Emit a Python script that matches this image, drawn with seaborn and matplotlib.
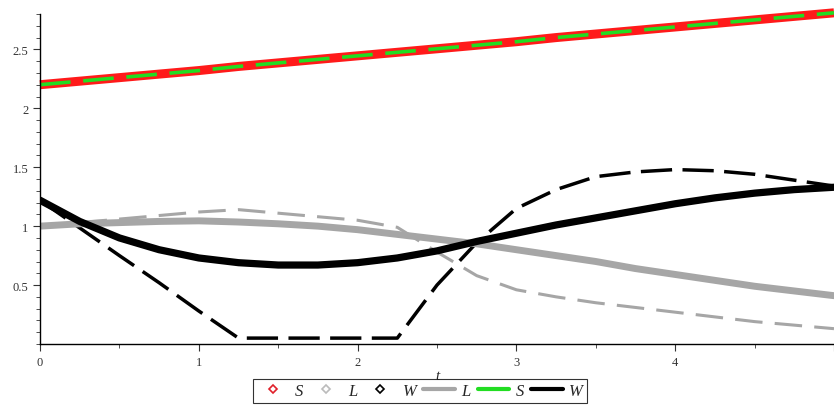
import numpy as np
import pandas as pd
import seaborn as sns
import matplotlib
matplotlib.use("Agg")
import matplotlib.pyplot as plt
from matplotlib.lines import Line2D
from matplotlib.ticker import MultipleLocator

# ---- data ----
t = [0, 0.25, 0.5, 0.75, 1.0, 1.25, 1.5, 1.75, 2.0, 2.25, 2.5,
     2.75, 3.0, 3.25, 3.5, 3.75, 4.0, 4.25, 4.5, 4.75, 5.0]
S_data = [2.20, 2.23, 2.26, 2.29, 2.32, 2.355, 2.385, 2.415, 2.445, 2.475, 2.505,
          2.535, 2.565, 2.60, 2.63, 2.66, 2.69, 2.72, 2.75, 2.78, 2.81]
S_model = S_data
L_data = [1.00, 1.03, 1.06, 1.09, 1.12, 1.14, 1.11, 1.08, 1.05, 0.99, 0.78,
          0.58, 0.46, 0.40, 0.35, 0.31, 0.27, 0.23, 0.19, 0.16, 0.13]
W_data = [1.22, 0.985, 0.75, 0.52, 0.28, 0.05, 0.05, 0.05, 0.05, 0.05, 0.50,
          0.86, 1.15, 1.31, 1.42, 1.46, 1.48, 1.47, 1.44, 1.39, 1.34]
L_model = [1.00, 1.02, 1.03, 1.04, 1.045, 1.035, 1.02, 1.00, 0.97, 0.93, 0.89,
           0.85, 0.80, 0.75, 0.70, 0.64, 0.59, 0.54, 0.49, 0.45, 0.41]
W_model = [1.22, 1.04, 0.90, 0.80, 0.73, 0.69, 0.67, 0.67, 0.69, 0.73, 0.79,
           0.87, 0.94, 1.01, 1.07, 1.13, 1.19, 1.24, 1.28, 1.31, 1.33]

df = pd.DataFrame({"t": t, "S_data": S_data, "L_data": L_data, "W_data": W_data,
                   "L_model": L_model, "S_model": S_model, "W_model": W_model})

sns.set_style("ticks")
plt.rcParams["font.family"] = ["Liberation Serif", "DejaVu Serif"]

fig = plt.figure(figsize=(8.34, 4.06), dpi=100)
ax = fig.add_axes([40 / 834, 1 - 345 / 406, 1 - 40 / 834, (345 - 15) / 406])

GREY = "#a6a6a6"
sns.lineplot(data=df, x="t", y="S_data", ax=ax, color="#ff1a1a", lw=6.5,
             solid_capstyle="butt", clip_on=False)
sns.lineplot(data=df, x="t", y="L_data", ax=ax, color=GREY, lw=2.2,
             linestyle=(0, (9, 4)))
sns.lineplot(data=df, x="t", y="W_data", ax=ax, color="black", lw=2.5,
             linestyle=(0, (9, 3)))
sns.lineplot(data=df, x="t", y="L_model", ax=ax, color=GREY, lw=5.0)
sns.lineplot(data=df, x="t", y="S_model", ax=ax, color="#22dd22", lw=2.6,
             linestyle=(0, (8.5, 3.5)), clip_on=False)
sns.lineplot(data=df, x="t", y="W_model", ax=ax, color="black", lw=5.2)

ax.set_xlim(0, 5)
ax.set_ylim(0, 2.80)
ax.set_xticks([0, 1, 2, 3, 4, 5])
ax.set_xticklabels(["0", "1", "2", "3", "4", ""])
ax.xaxis.set_minor_locator(MultipleLocator(0.5))
ax.set_yticks([0.5, 1, 1.5, 2, 2.5])
ax.set_yticklabels(["0.5", "1", "1.5", "2", "2.5"])
ax.yaxis.set_minor_locator(MultipleLocator(0.1))
ax.tick_params(which="major", length=5, width=0.8, labelsize=9, colors="#333333")
ax.tick_params(which="minor", length=3, width=0.6, colors="#333333")
ax.set_xlabel("t", fontstyle="italic", fontsize=11, labelpad=1)
ax.set_ylabel("")
for s in ["top", "right"]:
    ax.spines[s].set_visible(False)
for s in ["left", "bottom"]:
    ax.spines[s].set_linewidth(1.0)
    ax.spines[s].set_color("black")

handles = [
    Line2D([], [], ls="none", marker="D", markersize=4, mfc="none", mec="#e0202a", mew=1.2),
    Line2D([], [], ls="none", marker="D", markersize=4, mfc="none", mec="#bbbbbb", mew=1.2),
    Line2D([], [], ls="none", marker="D", markersize=4, mfc="none", mec="black", mew=1.2),
    Line2D([], [], color=GREY, lw=3),
    Line2D([], [], color="#22dd22", lw=3),
    Line2D([], [], color="black", lw=3),
]
labels = ["S", "L", "W", "L", "S", "W"]
leg = fig.legend(handles, labels, loc="center", bbox_to_anchor=(420 / 834, 1 - 392 / 406),
                 ncol=6, frameon=True, fancybox=False, edgecolor="black",
                 handlelength=1.9, handletextpad=0.4, columnspacing=0.4,
                 borderpad=0.25, borderaxespad=0,
                 prop={"style": "italic", "size": 12})
leg.get_frame().set_linewidth(0.8)

fig.savefig("out.png", dpi=100)
